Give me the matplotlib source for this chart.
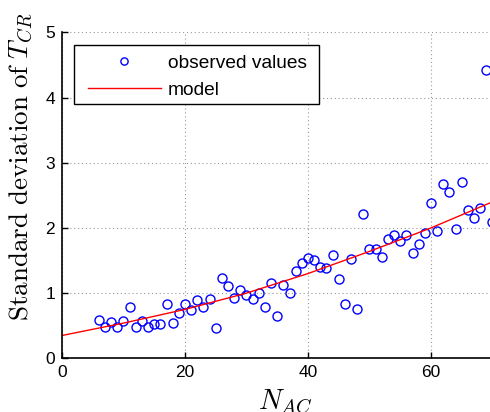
import numpy as np
import matplotlib
matplotlib.use("Agg")
import matplotlib.pyplot as plt
from matplotlib.patches import Rectangle

# observed standard deviation of T_CR for each N_AC
n_ac = [6, 7, 8, 9, 10, 11, 12, 13, 14, 15, 16, 17, 18, 19, 20, 21, 22, 23, 24, 25,
        26, 27, 28, 29, 30, 31, 32, 33, 34, 35, 36, 37, 38, 39, 40, 41, 42, 43, 44, 45,
        46, 47, 48, 49, 50, 51, 52, 53, 54, 55, 56, 57, 58, 59, 60, 61, 62, 63, 64, 65,
        66, 67, 68, 69, 70]
std_tcr = [0.58, 0.48, 0.56, 0.48, 0.57, 0.79, 0.48, 0.57, 0.48, 0.52, 0.52, 0.83, 0.54, 0.69, 0.84,
           0.74, 0.89, 0.78, 0.91, 0.47, 1.23, 1.11, 0.93, 1.05, 0.97, 0.91, 1.00, 0.79, 1.15, 0.65,
           1.13, 1.00, 1.34, 1.46, 1.54, 1.51, 1.40, 1.38, 1.58, 1.22, 0.83, 1.52, 0.75, 2.21, 1.67,
           1.67, 1.56, 1.83, 1.89, 1.80, 1.89, 1.61, 1.76, 1.92, 2.38, 1.96, 2.68, 2.55, 1.99, 2.71,
           2.27, 2.15, 2.30, 4.42, 2.09]

# fitted model curve
model_x = [0, 10, 20, 30, 40, 50, 60, 70]
model_y = [0.35, 0.54, 0.75, 1.00, 1.30, 1.64, 2.00, 2.40]

plt.rcParams['font.family'] = ['Liberation Sans', 'DejaVu Sans']
plt.rcParams['mathtext.fontset'] = 'cm'
plt.rcParams['font.size'] = 12

W, H = 490, 412
fig = plt.figure(figsize=(4.9, 4.12), dpi=100)
ax = fig.add_axes([0.1265, 0.1303, 0.8786, 0.7913])

ax.plot(n_ac, std_tcr, 'o', mfc='none', mec='#0000ff', ms=6.5, mew=1.0,
        label='observed values')
ax.plot(model_x, model_y, '-', color='#ff0000', lw=1.0, label='model')

ax.set_xlim(0, 70)
ax.set_ylim(0, 5)
ax.set_xticks([0, 20, 40, 60])
ax.set_yticks([0, 1, 2, 3, 4, 5])
ax.grid(True, linestyle=(0, (1, 2.5)), color='#999999', linewidth=0.8)
ax.tick_params(direction='in', length=4, width=1, labelsize=12.5, pad=5,
               top=False, right=False)
for side in ['top', 'right']:
    ax.spines[side].set_visible(False)
for side in ['left', 'bottom']:
    ax.spines[side].set_linewidth(1.2)

ax.set_xlabel(r'$N_{AC}$', fontsize=20.5)
ax.xaxis.set_label_coords(0.52, -0.092)
ax.set_ylabel(r'$\mathrm{Standard\ deviation\ of}\ T_{CR}$', fontsize=19.5)
ax.yaxis.set_label_coords(-0.064, 0.587)

# legend box drawn separately so its padding matches the MATLAB-style legend
box = Rectangle((73.5 / W, 1 - 104 / H), (319 - 73.5) / W, (104 - 45) / H,
                transform=fig.transFigure, facecolor='white', edgecolor='black',
                linewidth=1.0, zorder=4.9, clip_on=False)
ax.add_patch(box)
leg = ax.legend(loc='upper left', bbox_to_anchor=(88 / W, 1 - 54.5 / H),
                bbox_transform=fig.transFigure, borderaxespad=0, borderpad=0,
                frameon=False, handlelength=3.8, handletextpad=0.37,
                labelspacing=0.5, markerscale=0.8, fontsize=13.8)
leg.set_zorder(5)

fig.savefig('out.png', dpi=100)
